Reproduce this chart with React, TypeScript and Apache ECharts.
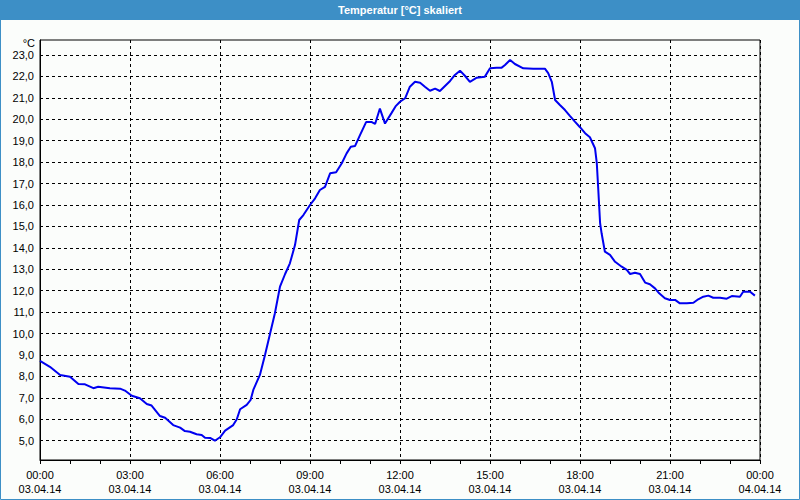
import React, { useEffect, useRef } from "react";
import * as echarts from "echarts";

const TITLE = "Temperatur [°C] skaliert";
const UNIT = "°C";
const DATE_START = "03.04.14";
const DATE_END = "04.04.14";

// time in hours since 00:00 on 03.04.14
const hours = [
  0, 0.33, 0.67, 1.0, 1.28, 1.5, 1.78, 1.94, 2.33, 2.67, 2.83, 3.06, 3.33, 3.56, 3.72,
  4.0, 4.17, 4.44, 4.67, 4.83, 5.0, 5.22, 5.39, 5.5, 5.67, 5.83, 6.0, 6.17, 6.44, 6.56,
  6.67, 6.89, 7.02, 7.11, 7.33, 7.5, 7.67, 7.83, 8.0, 8.17, 8.33, 8.5, 8.64, 8.78, 9.0,
  9.17, 9.33, 9.5, 9.67, 9.87, 10.06, 10.22, 10.36, 10.5, 10.67, 10.87, 11.06, 11.17,
  11.33, 11.5, 11.72, 11.85, 12.0, 12.17, 12.33, 12.5, 12.67, 12.83, 13.0, 13.17, 13.33,
  13.67, 13.83, 14.0, 14.17, 14.33, 14.56, 14.83, 15.0, 15.22, 15.39, 15.5, 15.67, 15.83,
  16.11, 16.44, 16.83, 16.94, 17.06, 17.17, 17.33, 17.5, 17.67, 17.83, 18.0, 18.17, 18.33,
  18.5, 18.56, 18.61, 18.67, 18.72, 18.83, 19.0, 19.17, 19.39, 19.56, 19.67, 19.83, 20.0,
  20.17, 20.33, 20.5, 20.64, 20.83, 21.0, 21.17, 21.33, 21.56, 21.78, 21.94, 22.11, 22.28,
  22.44, 22.67, 22.89, 23.06, 23.33, 23.44, 23.67, 23.83,
];

const temps = [
  8.73, 8.45, 8.07, 7.99, 7.65, 7.63, 7.45, 7.52, 7.45, 7.43, 7.34, 7.1, 6.98, 6.71, 6.64,
  6.15, 6.07, 5.73, 5.61, 5.45, 5.42, 5.3, 5.27, 5.14, 5.13, 5.0, 5.16, 5.47, 5.73, 6.0,
  6.47, 6.67, 6.9, 7.37, 8.07, 9.0, 10.0, 10.95, 12.19, 12.78, 13.28, 14.13, 15.3, 15.53, 16.0,
  16.31, 16.7, 16.85, 17.48, 17.53, 17.95, 18.41, 18.72, 18.75, 19.27, 19.87, 19.87, 19.78,
  20.5, 19.8, 20.3, 20.6, 20.82, 20.98, 21.52, 21.75, 21.71, 21.52, 21.33, 21.43, 21.32,
  21.79, 22.07, 22.27, 22.02, 21.75, 21.94, 21.99, 22.38, 22.41, 22.41, 22.53, 22.77, 22.58,
  22.38, 22.36, 22.36, 22.15, 21.75, 20.9, 20.67, 20.43, 20.15, 19.89, 19.63, 19.35, 19.16,
  18.65, 17.95, 16.7, 15.15, 14.68, 13.82, 13.67, 13.35, 13.12, 12.97, 12.78, 12.84, 12.78,
  12.38, 12.3, 12.11, 11.88, 11.65, 11.57, 11.57, 11.41, 11.41, 11.44, 11.6, 11.72, 11.77,
  11.67, 11.67, 11.63, 11.75, 11.72, 11.95, 11.95, 11.77,
];

const Y_MIN_FRAME = 4.1;
const Y_MAX_FRAME = 23.7;
const Y_MIN_TICK = 5;
const Y_MAX_TICK = 23;

export default function App() {
  const ref = useRef<HTMLDivElement>(null);
  useEffect(() => {
    document.body.style.margin = "0";
    const chart = echarts.init(ref.current!, null, { renderer: "svg" });
    const plotTop = 40;
    const plotBottom = 460;
    const pxPerUnit = (plotBottom - plotTop) / (Y_MAX_FRAME - Y_MIN_FRAME);
    const g1Top = plotTop + (Y_MAX_FRAME - Y_MAX_TICK) * pxPerUnit;
    const g1Height = (Y_MAX_TICK - Y_MIN_TICK) * pxPerUnit;
    const font = "Liberation Sans";
    const pad = (n: number) => (n < 10 ? "0" + n : "" + n);
    chart.setOption({
      animation: false,
      backgroundColor: "#fbfdfb",
      graphic: [
        { type: "rect", shape: { x: 0.5, y: 0.5, width: 799, height: 499 }, style: { fill: "none", stroke: "#3d8fc6", lineWidth: 1 }, z: 0 },
        { type: "rect", shape: { x: 0, y: 0, width: 800, height: 20 }, style: { fill: "#3d8fc6" }, z: 10 },
        {
          type: "text", x: 400, y: 10, z: 11,
          style: { text: TITLE, fill: "#ffffff", font: `bold 11px "${font}"`, textAlign: "center", textVerticalAlign: "middle" },
        },
        {
          type: "text", x: 35, y: 43, z: 11,
          style: { text: UNIT, fill: "#000", font: `11px "${font}"`, textAlign: "right", textVerticalAlign: "middle" },
        },
      ],
      grid: [
        { left: 40, right: 40, top: plotTop, bottom: 500 - plotBottom, show: true, borderColor: "#000", borderWidth: 1, backgroundColor: "transparent" },
        { left: 40, right: 40, top: g1Top, height: g1Height },
      ],
      xAxis: [
        {
          type: "value", gridIndex: 0, min: 0, max: 24, interval: 3,
          axisLine: { show: true, lineStyle: { color: "#000", width: 1 } },
          axisTick: { show: true, length: 4, lineStyle: { color: "#000" } },
          minorTick: { show: true, splitNumber: 3, length: 4, lineStyle: { color: "#000" } },
          splitLine: { show: true, lineStyle: { color: "#000", type: [3, 3], width: 1 } },
          axisLabel: {
            color: "#000", fontSize: 11, fontFamily: font, lineHeight: 14, margin: 8,
            formatter: (v: number) => pad(v % 24) + ":00\n" + (v >= 24 ? DATE_END : DATE_START),
          },
        },
        { type: "value", gridIndex: 1, min: 0, max: 24, show: false },
      ],
      yAxis: [
        {
          type: "value", gridIndex: 0, min: Y_MIN_FRAME, max: Y_MAX_FRAME,
          axisLine: { show: true, lineStyle: { color: "#000" } },
          axisTick: { show: false }, axisLabel: { show: false }, splitLine: { show: false },
        },
        {
          type: "value", gridIndex: 1, min: Y_MIN_TICK, max: Y_MAX_TICK, interval: 1,
          axisLine: { show: false }, axisTick: { show: false },
          splitLine: { show: true, lineStyle: { color: "#000", type: [3, 3], width: 1 } },
          axisLabel: {
            color: "#000", fontSize: 11, fontFamily: font, margin: 6,
            formatter: (v: number) => v.toFixed(1).replace(".", ","),
          },
        },
      ],
      series: [
        {
          type: "line", xAxisIndex: 0, yAxisIndex: 0,
          data: hours.map((h, i) => [h, temps[i]]),
          showSymbol: false, symbol: "none",
          lineStyle: { color: "#0000f0", width: 2 },
          z: 5,
        },
      ],
    });
    return () => chart.dispose();
  }, []);
  return <div ref={ref} style={{ position: "fixed", left: 0, top: 0, width: 800, height: 500 }} />;
}
